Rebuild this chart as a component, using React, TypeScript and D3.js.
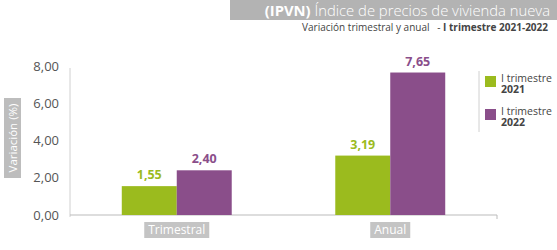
import React, { useEffect, useRef } from "react";
import * as d3 from "d3";

const categories = ["Trimestral", "Anual"];
const seriesNames = ["2021", "2022"];
const values2021 = [1.55, 3.19];
const values2022 = [2.4, 7.65];
const yTicks = [0, 2, 4, 6, 8];
const colors = ["#9bbb1e", "#8a4e8a"];

const fmt = (v: number) => d3.format(".2f")(v).replace(".", ",");

const App = () => {
  const ref = useRef<SVGSVGElement>(null);

  useEffect(() => {
    const svg = d3.select(ref.current);
    svg.selectAll("*").remove();
    const font = "'Open Sans', sans-serif";

    const dims = { width: 557, height: 250, left: 70, right: 497, top: 66, bottom: 215 };

    // title
    svg.append("rect").attr("x", 230).attr("y", 0).attr("width", 327).attr("height", 20).attr("fill", "#b3b3b3");
    const title = svg.append("text").attr("x", 550).attr("y", 16).attr("text-anchor", "end")
      .attr("font-family", font).attr("font-size", 14.8).attr("fill", "#fff");
    title.append("tspan").attr("font-weight", "bold").text("(IPVN) ");
    title.append("tspan").attr("font-weight", 300).text("Índice de precios de vivienda nueva");

    const sub = svg.append("text").attr("x", 548).attr("y", 31).attr("text-anchor", "end")
      .attr("xml:space", "preserve").style("white-space", "pre")
      .attr("font-family", font).attr("font-size", 10).attr("fill", "#444");
    sub.append("tspan").text("Variación trimestral y anual   - ");
    sub.append("tspan").attr("font-weight", "bold").text("I trimestre 2021-2022");

    const y = d3.scaleLinear().domain([0, 8]).range([dims.bottom, dims.top]);
    const x0 = d3.scaleBand().domain(categories).range([dims.left, dims.right]).paddingInner(0.485).paddingOuter(0.2425);
    const x1 = d3.scaleBand().domain(seriesNames).range([0, x0.bandwidth()]);

    // axes
    svg.append("line").attr("x1", dims.left).attr("x2", dims.left).attr("y1", 68).attr("y2", dims.bottom + 2)
      .attr("stroke", "#d0d0d0");
    svg.append("line").attr("x1", dims.left).attr("x2", dims.right).attr("y1", dims.bottom).attr("y2", dims.bottom)
      .attr("stroke", "#bbb");
    svg.append("line").attr("x1", dims.right).attr("x2", dims.right).attr("y1", dims.bottom).attr("y2", dims.bottom + 4)
      .attr("stroke", "#bbb");

    svg.selectAll(".ytick").data(yTicks).enter().append("text")
      .attr("x", 59).attr("y", (d) => y(d) + 4.5).attr("text-anchor", "end")
      .attr("font-family", font).attr("font-size", 13).attr("fill", "#555").text((d) => fmt(d));

    // y title
    const yt = svg.append("g").attr("transform", "translate(12,138) rotate(-90)");
    yt.append("rect").attr("x", -40).attr("y", -8).attr("width", 80).attr("height", 17).attr("fill", "#bdbdbd");
    yt.append("text").attr("x", 0).attr("y", 4.5).attr("text-anchor", "middle").attr("font-family", font)
      .attr("font-size", 11.5).attr("fill", "#fff").text("Variación (%)");

    const series = [values2021, values2022];
    series.forEach((vals, si) => {
      categories.forEach((c, ci) => {
        const bx = (x0(c) as number) + (x1(seriesNames[si]) as number);
        svg.append("rect").attr("x", bx).attr("y", y(vals[ci])).attr("width", x1.bandwidth())
          .attr("height", y(0) - y(vals[ci])).attr("fill", colors[si]);
        svg.append("text").attr("x", bx + x1.bandwidth() / 2).attr("y", y(vals[ci]) - 7)
          .attr("text-anchor", "middle").attr("font-family", font).attr("font-weight", "bold")
          .attr("font-size", 12.5).attr("fill", colors[si]).text(fmt(vals[ci]));
      });
    });

    // category labels
    categories.forEach((c) => {
      const cx = (x0(c) as number) + x0.bandwidth() / 2;
      const t = svg.append("text").attr("x", cx).attr("y", 234).attr("text-anchor", "middle")
        .attr("font-family", font).attr("font-size", 12).attr("fill", "#fff").text(c);
      const w = (t.node() as SVGTextElement).getComputedTextLength() + 8;
      svg.insert("rect", () => t.node()).attr("x", cx - w / 2).attr("y", 222).attr("width", w).attr("height", 16)
        .attr("fill", "#c4c4c4");
    });

    // legend
    svg.append("line").attr("x1", 479).attr("x2", 479).attr("y1", 71).attr("y2", 132).attr("stroke", "#d0d0d0");
    seriesNames.forEach((s, i) => {
      const ly = 76 + i * 33;
      svg.append("rect").attr("x", 485).attr("y", ly).attr("width", 11).attr("height", 11).attr("fill", colors[i]);
      svg.append("text").attr("x", 501).attr("y", ly + 5.5).attr("font-family", font).attr("font-size", 10.5)
        .attr("fill", "#444").text("I trimestre");
      svg.append("text").attr("x", 501).attr("y", ly + 17).attr("font-family", font).attr("font-size", 10.5)
        .attr("font-weight", "bold").attr("fill", "#444").text(s);
    });
  }, []);

  return (
    <svg ref={ref} width={557} height={250} style={{ position: "absolute", left: 0, top: 0, background: "#fff" }} />
  );
};

export default App;
